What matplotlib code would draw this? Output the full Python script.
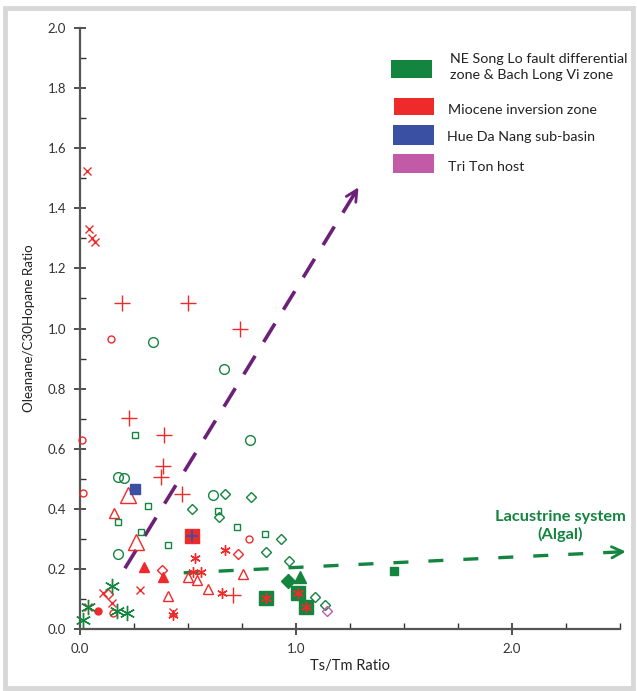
import matplotlib
matplotlib.use('Agg')
import matplotlib.pyplot as plt
from matplotlib.patches import Rectangle

plt.rcParams['font.family'] = ['Lato', 'DejaVu Sans']

RED = '#ee2a2a'
GREEN = '#13853f'
BLUE = '#3a50a2'
PINK = '#c25aa8'
PURPLE = '#6d2077'

# --- data ---
red_x_x = [0.031, 0.043, 0.057, 0.069, 0.108, 0.147, 0.039, 0.278, 0.43]
red_x_y = [1.525, 1.331, 1.300, 1.289, 0.121, 0.085, 0.072, 0.130, 0.055]

red_plus_x = [0.196, 0.498, 0.741, 0.228, 0.390, 0.383, 0.373, 0.470, 0.707]
red_plus_y = [1.086, 1.086, 0.998, 0.703, 0.646, 0.542, 0.507, 0.449, 0.112]

red_star_x = [0.430, 0.532, 0.525, 0.560, 0.671, 0.659]
red_star_y = [0.045, 0.235, 0.189, 0.191, 0.263, 0.121]

red_circle_x = [0.011, 0.015, 0.144, 0.151, 0.784]
red_circle_y = [0.629, 0.452, 0.965, 0.052, 0.300]

red_dot_x = [0.085]
red_dot_y = [0.060]

red_tri_x = [0.157, 0.406, 0.500, 0.540, 0.753, 0.594]
red_tri_y = [0.387, 0.110, 0.172, 0.163, 0.183, 0.134]

red_bigtri_x = [0.224, 0.258]
red_bigtri_y = [0.446, 0.290]

red_filltri_x = [0.296, 0.386]
red_filltri_y = [0.207, 0.174]

red_diamond_x = [0.131, 0.378, 0.733]
red_diamond_y = [0.115, 0.196, 0.251]

green_circle_x = [0.177, 0.177, 0.205, 0.336, 0.667, 0.787, 0.617]
green_circle_y = [0.249, 0.505, 0.501, 0.956, 0.865, 0.628, 0.446]

green_square_x = [0.255, 0.177, 0.282, 0.316, 0.409, 0.640, 0.728, 0.856]
green_square_y = [0.646, 0.355, 0.324, 0.409, 0.280, 0.393, 0.340, 0.315]

green_diamond_x = [0.520, 0.671, 0.792, 0.644, 0.929, 0.860, 0.968, 1.088, 1.133]
green_diamond_y = [0.398, 0.448, 0.440, 0.372, 0.298, 0.257, 0.226, 0.107, 0.081]

green_star_x = [0.147, 0.039, 0.015, 0.170, 0.216]
green_star_y = [0.144, 0.072, 0.030, 0.061, 0.052]

green_filldiamond_x = [0.964]
green_filldiamond_y = [0.160]

green_filltri_x = [1.019]
green_filltri_y = [0.174]

green_bigsq_x = [0.861, 1.010, 1.046]
green_bigsq_y = [0.102, 0.121, 0.073]

green_smallsq_x = [1.455]
green_smallsq_y = [0.193]

red_bigsq_x = [0.520]
red_bigsq_y = [0.310]

blue_sq_x = [0.255]
blue_sq_y = [0.465]

pink_diamond_x = [1.142]
pink_diamond_y = [0.061]

purple_arrow_x = [0.208, 1.296]
purple_arrow_y = [0.202, 1.478]

green_arrow_x = [0.48, 2.54]
green_arrow_y = [0.187, 0.258]

legend_labels = ['NE Song Lo fault differential\nzone & Bach Long Vi zone',
                 'Miocene inversion zone', 'Hue Da Nang sub-basin', 'Tri Ton host']
legend_colors = [GREEN, RED, BLUE, PINK]

W, H = 637, 691
fig = plt.figure(figsize=(W / 100, H / 100), dpi=100)
ax = fig.add_axes([80 / W, 1 - 629 / H, 540 / W, 601 / H])


def px(x, y):
    return x / W, 1 - y / H


# frame around the whole figure
fig.patches.append(Rectangle(px(5, 688), 628 / W, 680 / H, transform=fig.transFigure,
                             fill=False, ec='#d8d8d8', lw=3.5))


def pts(x, y, marker, color, ms, filled=False, mew=1.0, z=3):
    ax.plot(x, y, ls='none', marker=marker, ms=ms, mew=mew,
            mec=color, mfc=color if filled else 'none', zorder=z, clip_on=False)


pts(red_x_x, red_x_y, 'x', RED, 6)
pts(red_plus_x, red_plus_y, '+', RED, 11)
pts(red_star_x, red_star_y, (6, 2, 0), RED, 7.5)
pts(red_circle_x, red_circle_y, 'o', RED, 5)
pts(red_dot_x, red_dot_y, 'o', RED, 5, filled=True)
pts(red_tri_x, red_tri_y, '^', RED, 6.5)
pts(red_bigtri_x, red_bigtri_y, '^', RED, 11)
pts(red_filltri_x, red_filltri_y, '^', RED, 7, filled=True)
pts(red_diamond_x, red_diamond_y, 'D', RED, 5.5)
pts(green_circle_x, green_circle_y, 'o', GREEN, 7)
pts(green_square_x, green_square_y, 's', GREEN, 5)
pts(green_diamond_x, green_diamond_y, 'D', GREEN, 5.5)
pts(green_star_x, green_star_y, (6, 2, 0), GREEN, 11)
pts(green_filldiamond_x, green_filldiamond_y, 'D', GREEN, 7, filled=True)
pts(green_filltri_x, green_filltri_y, '^', GREEN, 8, filled=True)
pts(green_bigsq_x, green_bigsq_y, 's', GREEN, 10, filled=True)
pts(green_bigsq_x, green_bigsq_y, (6, 2, 0), RED, 8, z=4)
pts(green_smallsq_x, green_smallsq_y, 's', GREEN, 5.5, filled=True)
pts(red_bigsq_x, red_bigsq_y, 's', RED, 10, filled=True)
pts(red_bigsq_x, red_bigsq_y, '+', BLUE, 8, mew=1.3, z=4)
pts(blue_sq_x, blue_sq_y, 's', BLUE, 7, filled=True)
pts(pink_diamond_x, pink_diamond_y, 'D', PINK, 5.5)

# trend arrows
ax.plot(purple_arrow_x, purple_arrow_y, color=PURPLE, lw=2.6, ls=(0, (6, 4.5)),
        dash_capstyle='butt', zorder=2)
dx = purple_arrow_x[1] - purple_arrow_x[0]
dy = purple_arrow_y[1] - purple_arrow_y[0]
ax.annotate('', xy=(purple_arrow_x[1], purple_arrow_y[1]),
            xytext=(purple_arrow_x[1] - 0.04 * dx, purple_arrow_y[1] - 0.04 * dy),
            arrowprops=dict(arrowstyle='->', color=PURPLE, lw=2, mutation_scale=20))

ax.plot(green_arrow_x, green_arrow_y, color=GREEN, lw=2.4, ls=(0, (4.5, 6)),
        dash_capstyle='butt', zorder=2, clip_on=False)
gx = green_arrow_x[1] - green_arrow_x[0]
gy = green_arrow_y[1] - green_arrow_y[0]
ax.annotate('', xy=(green_arrow_x[1], green_arrow_y[1]),
            xytext=(green_arrow_x[1] - 0.03 * gx, green_arrow_y[1] - 0.03 * gy),
            arrowprops=dict(arrowstyle='->', color=GREEN, lw=2, mutation_scale=20),
            annotation_clip=False)
fig.text(*px(560, 526), 'Lacustrine system\n(Algal)', color=GREEN, fontsize=11.8,
         fontweight='bold', ha='center', va='center', linespacing=1.25)

# axes styling
ax.set_xlim(0, 2.5)
ax.set_ylim(0, 2.0)
for s in ['top', 'right']:
    ax.spines[s].set_visible(False)
for s in ['left', 'bottom']:
    ax.spines[s].set_color('#555555')
    ax.spines[s].set_linewidth(1.6)
ax.set_xticks([0, 1, 2])
ax.set_xticklabels(['0.0', '1.0', '2.0'])
ax.set_xticks([0.25 * i for i in range(11)], minor=True)
ax.set_yticks([0.2 * i for i in range(11)])
ax.set_yticklabels(['%.1f' % (0.2 * i) for i in range(11)])
ax.set_yticks([0.1 * i for i in range(21)], minor=True)
ax.tick_params(which='major', direction='inout', length=8, width=1.2, color='#333333',
               labelsize=9.5, labelcolor='#333333', pad=6)
ax.tick_params(which='minor', direction='in', length=4.5, width=1.0, color='#333333')
ax.set_xlabel('Ts/Tm Ratio', fontsize=10.5, color='#222222', labelpad=3)
ax.set_ylabel('Oleanane/C30Hopane Ratio', fontsize=9.6, color='#222222', labelpad=9)

# legend drawn as coloured boxes
boxes = [(391, 60, 41, 18), (394, 98, 40, 17), (393, 125, 41, 20), (393, 154, 41, 19)]
text_pos = [(450, 67), (448, 110), (447, 137), (448, 167)]
for (bx, by, bw, bh), c, lab, (tx, ty) in zip(boxes, legend_colors, legend_labels, text_pos):
    fig.patches.append(Rectangle(px(bx, by + bh), bw / W, bh / H,
                                 transform=fig.transFigure, color=c, lw=0))
    fig.text(*px(tx, ty), lab, fontsize=10.3, color='#222222', va='center', ha='left',
             linespacing=1.4)

fig.savefig('out.png', dpi=100)
